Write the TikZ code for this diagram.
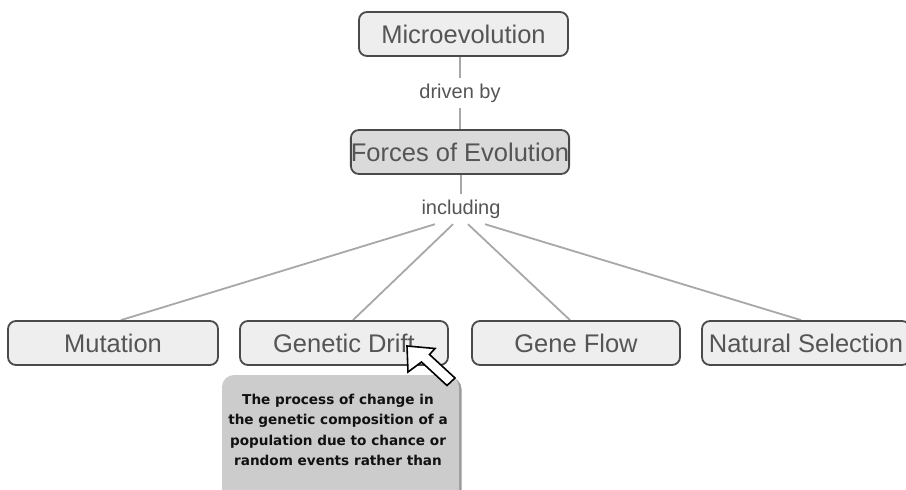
\documentclass[tikz,border=0pt]{standalone}
\usepackage{fontspec}
\setmainfont{Liberation Sans}
\newfontfamily\tipfont{DejaVu Sans}
\usetikzlibrary{backgrounds}
\definecolor{boxfill}{HTML}{EEEEEE}
\definecolor{forcefill}{HTML}{DADADA}
\definecolor{boxline}{HTML}{4A4A4A}
\definecolor{textgray}{HTML}{555555}
\definecolor{linkgray}{HTML}{A8A8A8}
\definecolor{tipfill}{HTML}{CCCCCC}
\definecolor{tipshadow}{HTML}{9A9A9A}
\definecolor{tiptext}{HTML}{111111}
\begin{document}
\begin{tikzpicture}[x=1pt,y=-1pt,
  concept/.style={draw=boxline, line width=1.8pt, rounded corners=8pt, fill=boxfill,
    minimum width=208pt, minimum height=44pt, inner sep=0pt,
    font=\fontsize{25.5}{30}\selectfont, text=textgray},
  linklabel/.style={inner sep=0pt, minimum height=30pt,
    font=\fontsize{20}{24}\selectfont, text=textgray},
  link/.style={draw=linkgray, line width=1.8pt},
  tipnote/.style={inner sep=0pt, align=center, anchor=north, text=tiptext,
    font={\tipfont\bfseries\fontsize{13.6}{20.5}\selectfont}}]
\useasboundingbox (0,0) rectangle (906,490);
\clip (0,0) rectangle (906,490);

% concept boxes
\node[concept, minimum width=209pt] (micro) at (463.5,34) {Microevolution};
\node[linklabel] (drv) at (460,93) {driven by};
\node[concept, minimum width=204pt, fill=forcefill] (forces) at (460,152) {Forces of Evolution};
\node[linklabel] (inc) at (461,209) {including};
\node[concept, minimum width=210pt] (mut) at (113,343) {Mutation};
\node[concept] (drift) at (344,343) {Genetic Drift};
\node[concept] (flow) at (576,343) {Gene Flow};
\node[concept] (nat) at (806,343) {Natural Selection};

% connectors, kept beneath the boxes
\begin{pgfonlayer}{background}
  \fill[white] (0,0) rectangle (906,490);
  \draw[link] (micro.south -| drv.north) -- (drv.north);
  \draw[link] (drv.south) -- (forces.north -| drv.south);
  \draw[link] (forces.south -| inc.north) -- (inc.north);
  \draw[link] ([xshift=-26pt]inc.south) -- ([xshift=8pt]mut.north);
  \draw[link] ([xshift=-8pt]inc.south) -- ([xshift=9pt]drift.north);
  \draw[link] ([xshift=7pt]inc.south) -- ([xshift=-6pt]flow.north);
  \draw[link] ([xshift=24pt]inc.south) -- ([xshift=-5pt]nat.north);
\end{pgfonlayer}

% hover note under Genetic Drift
\fill[tipshadow, rounded corners=12pt] (224.5,377) rectangle (461.5,530);
\fill[tipfill, rounded corners=12pt] (222,375) rectangle (459,530);
\node[tipnote] (note) at (338,393.5) {The process of change in\\the genetic composition of a\\population due to chance or\\random events rather than};

% mouse pointer
\draw[black, fill=white, line width=1.6pt, line join=miter]
  (407,346) -- (435,348.5) -- (429.5,354.5) -- (455,378) -- (447,385.5)
  -- (421.5,362) -- (408,372) -- cycle;
\end{tikzpicture}
\end{document}
